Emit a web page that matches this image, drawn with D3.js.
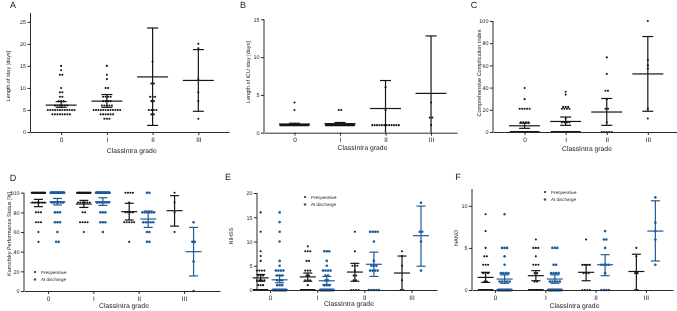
<!DOCTYPE html>
<html>
<head>
<meta charset="utf-8">
<style>
  body { margin: 0; background: #fff; }
  svg { will-change: transform; }
  text { font-family: "Liberation Sans", Arial, sans-serif; -webkit-font-smoothing: antialiased; text-rendering: geometricPrecision; }
</style>
</head>
<body>
<svg id="chart" width="677" height="311"></svg>

<script src="https://cdn.jsdelivr.net/npm/d3@7"></script>

<script>
    // ClassIntra grades on the x axis of every panel
    var grades = ["0", "I", "II", "III"];

    // points are [value, count] per grade
    // A - length of stay
    var losPts = [
        [[15,1],[14,1],[13,2],[10,1],[9,2],[8,2],[7,3],[6,6],[5,12],[4,8]],
        [[15,1],[13,1],[12,1],[10,2],[8,4],[7,4],[6,5],[5,12],[4,6],[3,3]],
        [[16,1],[11,2],[8,3],[7,2],[5,4],[4,2]],
        [[20,1],[19,1],[12,1],[9,1],[7,1],[3,1]]
    ];
    var losMean = [6.1, 7.0, 12.5, 11.7];
    var losLo = [5.6, 5.6, 1.5, 4.7];
    var losHi = [6.9, 8.5, 23.6, 18.7];

    // B - length of ICU stay
    var icuPts = [
        [[4,1],[3,1],[1,40]],
        [[3,2],[1,40]],
        [[6,1],[3,1],[1,12]],
        [[4,1],[2,2],[1,1]]
    ];
    var icuMean = [1.15, 1.2, 3.2, 5.2];
    var icuLo = [1.0, 1.0, -0.5, -2.4];
    var icuHi = [1.25, 1.35, 6.9, 12.8];

    // C - comprehensive complication index
    var cciPts = [
        [[39.7,1],[29.6,1],[20.9,5],[8.7,4],[0,40]],
        [[36.2,1],[33.7,1],[22.6,3],[20.9,4],[12.2,1],[8.7,4],[0,40]],
        [[67.2,1],[52.2,1],[37.1,2],[29.6,1],[20.9,2],[8.7,1],[0,5]],
        [[100,1],[65,1],[60,1],[57,1],[20.9,1],[12.2,1]]
    ];
    var cciMean = [5.6, 9.5, 18.0, 52.3];
    var cciLo = [3.3, 6.0, 6.0, 18.7];
    var cciHi = [8.0, 13.5, 30.2, 86.0];

    // D - Karnofsky performance status
    var kpsPre = [
        [[100,30],[90,6],[80,3],[70,3],[60,1],[50,1]],
        [[100,30],[90,6],[80,2],[70,4],[60,1]],
        [[100,4],[90,1],[80,4],[70,5],[50,1]],
        [[100,1],[90,1],[80,1],[60,1]]
    ];
    var kpsPreMean = [89.8, 88.5, 80.7, 81.7];
    var kpsPreLo = [85.8, 85.0, 72.2, 66.0];
    var kpsPreHi = [93.2, 92.2, 89.2, 97.0];
    var kpsDis = [
        [[100,30],[90,6],[80,3],[70,3],[60,1],[50,2]],
        [[100,30],[90,6],[80,3],[70,3],[60,1]],
        [[100,2],[80,6],[70,5],[60,2],[50,2]],
        [[70,1],[50,2],[30,1],[0,1]]
    ];
    var kpsDisMean = [90.8, 90.8, 73.2, 40.0];
    var kpsDisLo = [87.5, 87.1, 64.7, 15.3];
    var kpsDisHi = [94.2, 94.9, 81.4, 64.7];

    // E - NIHSS
    var nihssPre = [
        [[16,1],[12,1],[8,1],[7,1],[6,1],[4,4],[3,3],[2,4],[1,3],[0,40]],
        [[9,1],[8,3],[6,2],[4,3],[3,2],[2,3],[1,1],[0,40]],
        [[12,1],[8,1],[5,3],[4,1],[3,2],[2,2],[0,4]],
        [[8,1],[7,1],[5,1],[2,1],[0,2]]
    ];
    var nihssPreMean = [2.5, 2.7, 3.7, 3.5];
    var nihssPreLo = [1.8, 1.8, 1.8, -0.2];
    var nihssPreHi = [3.2, 3.5, 5.5, 7.0];
    var nihssDis = [
        [[16,1],[14,1],[12,1],[10,1],[6,1],[5,1],[4,4],[3,3],[2,3],[1,3],[0,40]],
        [[8,3],[6,1],[5,1],[4,4],[3,2],[2,2],[1,3],[0,40]],
        [[12,4],[10,1],[6,1],[5,3],[4,4],[0,5]],
        [[18,1],[12,2],[10,1],[4,1]]
    ];
    var nihssDisMean = [2.1, 1.9, 5.3, 11.2];
    var nihssDisLo = [1.5, 1.1, 2.8, 4.9];
    var nihssDisHi = [3.0, 2.8, 7.8, 17.3];

    // F - NANO
    var nanoPre = [
        [[9,1],[7,1],[5,1],[4,2],[3,3],[2,3],[1,2],[0,40]],
        [[6,1],[5,3],[4,1],[3,3],[2,2],[1,2],[0,40]],
        [[6,1],[3,4],[2,3],[0,4]],
        [[5,1],[4,1],[2,2],[0,2]]
    ];
    var nanoPreMean = [1.5, 1.7, 2.1, 2.2];
    var nanoPreLo = [0.9, 1.1, 1.1, -0.1];
    var nanoPreHi = [2.1, 2.3, 3.0, 4.25];
    var nanoDis = [
        [[9,1],[5,3],[4,1],[3,1],[2,4],[1,5],[0,40]],
        [[5,3],[3,2],[2,4],[1,5],[0,40]],
        [[7,1],[6,2],[5,1],[3,4],[2,1],[0,4]],
        [[11,1],[8,1],[7,1],[6,1],[3,1]]
    ];
    var nanoDisMean = [1.3, 1.3, 3.0, 7.0];
    var nanoDisLo = [0.8, 0.8, 1.7, 3.45];
    var nanoDisHi = [1.8, 1.8, 4.2, 10.6];

    var legendNames = ["Preoperative", "At discharge"];

    var black = "#161616";
    var blue = "#1f5c9a";
    var axisColor = "#2a2a2a";
    var textColor = "#222";

    var svg = d3.select("#chart");

    function ser(pts, mean, lo, hi, color) {
        return {pts: pts, mean: mean, lo: lo, hi: hi, color: color};
    }

    var panels = [
        {letter: "A", lx: 13, ly: 8, left: 30.5, right: 229, top: 13, bottom: 132, max: 27,
         ticks: [0,5,10,15,20,25], pad: 0.67, align: 0.5, ytitle: "Length of stay [days]", ytx: 8, yc: 76,
         xty: 153, series: [ser(losPts, losMean, losLo, losHi, black)]},
        {letter: "B", lx: 243, ly: 8, left: 264, right: 457, top: 19.3, bottom: 132.7, max: 15,
         ticks: [0,5,10,15], pad: 0.62, align: 0.54, ytitle: "Length of ICU stay [days]", ytx: 248, yc: 72,
         xty: 150, series: [ser(icuPts, icuMean, icuLo, icuHi, black)]},
        {letter: "C", lx: 474, ly: 8, left: 493, right: 677, top: 21, bottom: 132, max: 100,
         ticks: [0,20,40,60,80,100], pad: 0.74, align: 0.52, ytitle: "Comprehensive Complication Index", ytx: 479, yc: 73,
         xty: 151, series: [ser(cciPts, cciMean, cciLo, cciHi, black)]},
        {letter: "D", lx: 13, ly: 181, left: 24, right: 220, top: 192.7, bottom: 291, max: 100,
         ticks: [0,20,40,60,80,100], pad: 0.66, align: 0.4, ytitle: "Karnofsky Performance Status [%]", ytx: 9, yc: 234,
         xty: 307.5, legend: [35, 272],
         series: [ser(kpsPre, kpsPreMean, kpsPreLo, kpsPreHi, black), ser(kpsDis, kpsDisMean, kpsDisLo, kpsDisHi, blue)]},
        {letter: "E", lx: 228, ly: 180, left: 257, right: 437, top: 193, bottom: 290, max: 20,
         ticks: [0,5,10,15,20], pad: 0.41, align: 0.34, ytitle: "NIHSS", ytx: 231, yc: 236,
         xty: 306, legend: [305, 197],
         series: [ser(nihssPre, nihssPreMean, nihssPreLo, nihssPreHi, black), ser(nihssDis, nihssDisMean, nihssDisLo, nihssDisHi, blue)]},
        {letter: "F", lx: 458, ly: 180, left: 472, right: 673, top: 189, bottom: 290, max: 12,
         ticks: [0,5,10], pad: 0.5, align: 0.46, ytitle: "NANO", ytx: 456, yc: 238,
         xty: 307.5, legend: [545, 192],
         series: [ser(nanoPre, nanoPreMean, nanoPreLo, nanoPreHi, black), ser(nanoDis, nanoDisMean, nanoDisLo, nanoDisHi, blue)]}
    ];

    panels.forEach(drawPanel);

    function drawPanel(p) {
        var x = d3.scalePoint().domain(grades).range([p.left, p.right]).padding(p.pad).align(p.align);
        var y = d3.scaleLinear().domain([0, p.max]).range([p.bottom, p.top]);
        var g = svg.append("g");
        var paired = p.series.length > 1;
        var off = paired ? 9.5 : 0;
        var rowMax = paired ? 14 : 29;
        var meanW = paired ? 16 : 31;
        var capW = paired ? 9 : 11;

        // points, one row per repeated value
        p.series.forEach(function(s, si) {
            var dx = paired ? (si == 0 ? -off : off) : 0;
            var dots = [];
            s.pts.forEach(function(rows, gi) {
                rows.forEach(function(r) {
                    var step = Math.min(2.5, rowMax / r[1]);
                    for (var k = 0; k < r[1]; k++) {
                        dots.push({x: x(grades[gi]) + dx + (k - (r[1] - 1) / 2) * step, v: r[0]});
                    }
                });
            });
            g.append("g").selectAll("circle")
                .data(dots)
                .join("circle")
                .attr("cx", d => d.x)
                .attr("cy", d => y(d.v))
                .attr("r", si == 0 ? 1.05 : 1.3)
                .attr("fill", s.color);

            // mean with error bars
            var bars = g.append("g").attr("stroke", s.color).attr("stroke-width", 1.2).attr("fill", "none");
            grades.forEach(function(gr, gi) {
                var cx = x(gr) + dx;
                var lo = Math.max(0, s.lo[gi]);
                bars.append("line").attr("x1", cx).attr("x2", cx).attr("y1", y(lo)).attr("y2", y(s.hi[gi]));
                bars.append("line").attr("x1", cx - meanW / 2).attr("x2", cx + meanW / 2)
                    .attr("y1", y(s.mean[gi])).attr("y2", y(s.mean[gi]));
                bars.append("line").attr("x1", cx - capW / 2).attr("x2", cx + capW / 2)
                    .attr("y1", y(s.hi[gi])).attr("y2", y(s.hi[gi]));
                if (s.lo[gi] > 0) {
                    bars.append("line").attr("x1", cx - capW / 2).attr("x2", cx + capW / 2)
                        .attr("y1", y(lo)).attr("y2", y(lo));
                }
            });
        });

        // axes
        var ya = g.append("g")
            .attr("transform", `translate(${p.left},0)`)
            .call(d3.axisLeft(y).tickValues(p.ticks).tickSize(3).tickSizeOuter(0).tickPadding(1.5));
        ya.select(".domain").attr("d", `M0,${p.bottom}V${p.top}`);
        ya.selectAll("text").attr("font-size", 5.5).attr("font-family", null);

        var xa = g.append("g")
            .attr("transform", `translate(0,${p.bottom})`)
            .call(d3.axisBottom(x).tickSize(3).tickSizeOuter(0).tickPadding(2));
        xa.selectAll("text").attr("font-size", 6.5).attr("font-family", null);

        g.selectAll(".domain, .tick line").attr("stroke", axisColor).attr("stroke-width", 1);
        g.selectAll(".tick text").attr("fill", textColor);

        // titles
        g.append("text").attr("x", p.lx).attr("y", p.ly)
            .attr("text-anchor", "middle").attr("font-size", 9).attr("fill", textColor).text(p.letter);
        g.append("text").attr("x", (p.left + p.right) / 2 + 2).attr("y", p.xty)
            .attr("text-anchor", "middle").attr("font-size", 6.8).attr("fill", textColor).text("ClassIntra grade");
        g.append("text")
            .attr("transform", `translate(${p.ytx},${p.yc}) rotate(-90)`)
            .attr("text-anchor", "middle").attr("dy", "0.35em")
            .attr("font-size", 5.5).attr("fill", textColor).text(p.ytitle);

        if (p.legend) {
            var lg = g.append("g").attr("transform", `translate(${p.legend[0]},${p.legend[1]})`);
            legendNames.forEach(function(name, i) {
                lg.append("circle").attr("cx", 0).attr("cy", i * 7.5).attr("r", i == 0 ? 1 : 1.3)
                    .attr("fill", p.series[i].color);
                lg.append("text").attr("x", 6).attr("y", i * 7.5).attr("dy", "0.35em")
                    .attr("font-size", 4.5).attr("fill", textColor).text(name);
            });
        }
    }
</script>
</body>
</html>
